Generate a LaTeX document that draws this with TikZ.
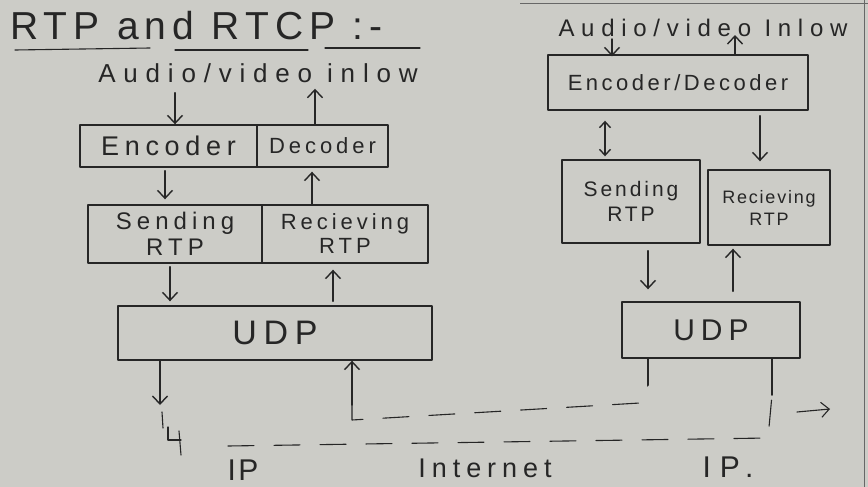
\documentclass[tikz,border=0pt]{standalone}
\usepackage{fontspec}
\newfontfamily\handfont{Liberation Sans}
\usetikzlibrary{arrows.meta,calc}
\definecolor{paper}{RGB}{204,204,199}
\definecolor{ink}{RGB}{38,38,38}
\tikzset{
  inkline/.style={draw=ink, line width=1.4pt, line cap=round, line join=round},
  arr/.style={inkline, -{Straight Barb[length=8pt,width=15pt]}},
  darr/.style={inkline, {Straight Barb[length=6pt,width=11pt]}-{Straight Barb[length=6pt,width=11pt]}},
  dsh/.style={inkline, line width=1.1pt, dash pattern=on 26pt off 20pt},
  hand/.style 2 args={text=ink, inner sep=0pt, align=center,
    font=\handfont\fontsize{#1}{#1}\selectfont\addfontfeatures{LetterSpace=#2}},
  boxw/.style 2 args={inkline, rectangle, inner sep=0pt, minimum width=#1, minimum height=#2},
}
\begin{document}
\begin{tikzpicture}[x=1pt,y=-1pt]
\fill[paper] (0,0) rectangle (868,487);
\useasboundingbox (0,0) rectangle (868,487);
% paper edges
\draw[ink!70, line width=0.8pt] (520,3) -- (868,3);
\draw[ink!70, line width=0.8pt] (864,0) -- (864,487);

% ---------------- title ----------------
\node[hand={39}{16}, anchor=west] (title) at (10,26) {RTP and RTCP :-};
\draw[inkline, line width=1.1pt] (15,50) -- (150,48);
\draw[inkline, line width=1.1pt] (175,50) -- (308,50);
\draw[inkline, line width=1.1pt] (325,48) -- (420,48);

% ---------------- left stack ----------------
\node[hand={26}{30}] (lav) at (258,73) {Audio/video inlow};
\node[boxw={177pt}{42pt}, hand={27}{21}] (lenc) at (168.5,146) {Encoder};
\node[boxw={131pt}{42pt}, hand={22}{18}] (ldec) at (322.5,146) {Decoder};
\node[boxw={174pt}{58pt}, hand={24}{21}] (lsend) at (175,234) {Sending\\[2pt]RTP};
\node[boxw={166pt}{58pt}, hand={22}{18}] (lrecv) at (345,234) {Recieving\\[2pt]RTP};
\node[boxw={314pt}{54pt}, hand={34}{20}] (ludp) at (275,333) {UDP};

\coordinate (xa) at (175,0);
\coordinate (xb) at (315,0);
\coordinate (xc) at (165,0);
\coordinate (xd) at (312,0);
\coordinate (xe) at (170,0);
\coordinate (xf) at (333,0);
\coordinate (xg) at (160,0);
\coordinate (xh) at (352,0);
\coordinate (lout) at (160,405);
\coordinate (lin) at (352,405);

\draw[arr] ($(xa |- lav.south)+(0,10)$) -- (xa |- lenc.north);
\draw[arr] (xb |- ldec.north) -- ($(xb |- lav.south)+(0,6)$);
\draw[arr] ($(xc |- lenc.south)+(0,3)$) -- ($(xc |- lsend.north)+(0,-5)$);
\draw[arr] (xd |- lrecv.north) -- ($(xd |- ldec.south)+(0,4)$);
\draw[arr] ($(xe |- lsend.south)+(0,3)$) -- ($(xe |- ludp.north)+(0,-4)$);
\draw[arr] ($(xf |- ludp.north)+(0,-4)$) -- ($(xf |- lrecv.south)+(0,6)$);
\draw[arr] (xg |- ludp.south) -- (lout);
\draw[arr] (lin) -- (xh |- ludp.south);

% small hook under left output
\draw[inkline, line width=1.1pt] (162,412) -- (163,428);
\draw[inkline, line width=1.1pt] (168,427) -- (168,440) -- (181,440);
\draw[inkline, line width=1.1pt] (179,431) -- (181,455);

% ---------------- right stack ----------------
\node[hand={24}{28}] (rav) at (703,28) {Audio/video Inlow};
\node[boxw={260pt}{55pt}, hand={22}{16}] (renc) at (678,82.5) {Encoder/Decoder};
\node[boxw={138pt}{83pt}, hand={21}{14}] (rsend) at (631,201.5) {Sending\\[4pt]RTP};
\node[boxw={122pt}{75pt}, hand={18}{10}] (rrecv) at (769,207.5) {Recieving\\[4pt]RTP};
\node[boxw={178pt}{56pt}, hand={30}{20}] (rudp) at (711,330) {UDP};

\coordinate (xi) at (612,0);
\coordinate (xj) at (735,0);
\coordinate (xk) at (605,0);
\coordinate (xl) at (760,0);
\coordinate (xm) at (648,0);
\coordinate (xn) at (733,0);
\coordinate (xo) at (772,0);
\coordinate (rout) at (648,385);
\coordinate (rin) at (772,395);

\draw[arr] ($(xi |- rav.south)+(0,2)$) -- ($(xi |- renc.north)+(0,2)$);
\draw[arr] (xj |- renc.north) -- ($(xj |- rav.south)+(0,-2)$);
\draw[darr] ($(xk |- renc.south)+(0,10)$) -- ($(xk |- rsend.north)+(0,-3)$);
\draw[arr] ($(xl |- renc.south)+(0,5)$) -- ($(xl |- rrecv.north)+(0,-8)$);
\draw[arr] ($(xm |- rsend.south)+(0,7)$) -- ($(xm |- rudp.north)+(0,-12)$);
\draw[arr] ($(xn |- rudp.north)+(0,-10)$) -- ($(xn |- rrecv.south)+(0,3)$);
\draw[inkline, line width=2pt] (xm |- rudp.south) -- (rout);
\draw[inkline, line width=1.6pt] (xo |- rudp.south) -- (rin);

% ---------------- internet paths ----------------
\draw[dsh] (lin) -- ++(0,15) -- (640,403) -- (rout);
\draw[dsh] (228,446) -- (768,438) -- (rin);
\coordinate (dira) at (797,412);
\coordinate (dirb) at (830,409);
\draw[arr, line width=1.1pt] (dira) -- (dirb);

\node[hand={30}{8}] (ip1) at (243,470) {IP};
\node[hand={27}{22}] (inet) at (485,468) {Internet};
\node[hand={30}{30}] (ip2) at (728,467) {IP.};
\end{tikzpicture}
\end{document}
